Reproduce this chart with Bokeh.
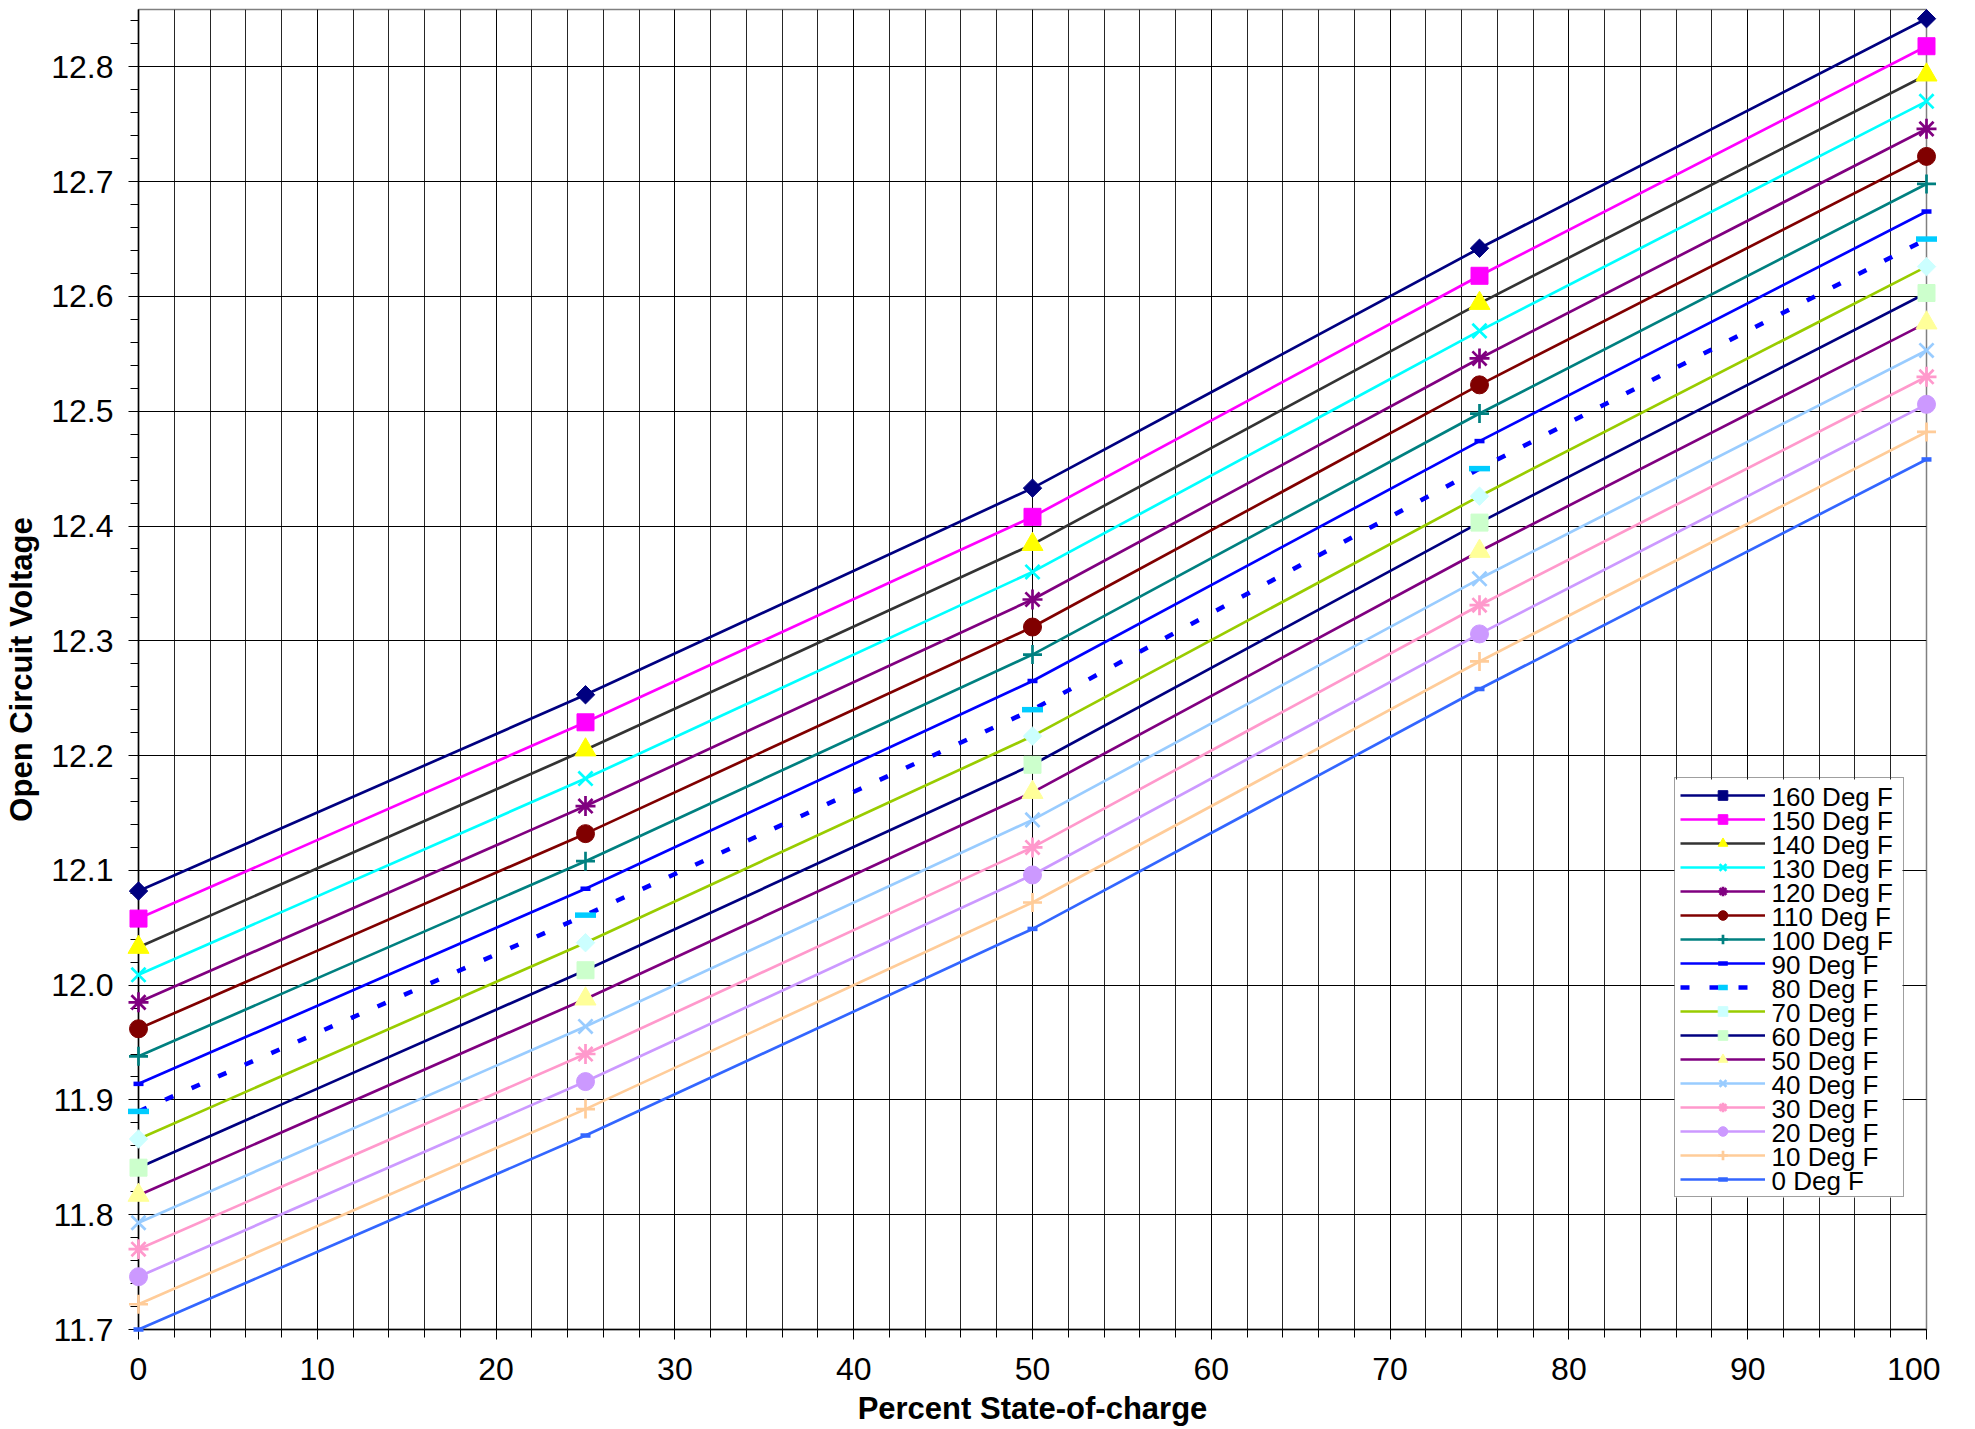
import math
from bokeh.plotting import figure
from bokeh.models import (FixedTicker, PrintfTickFormatter, Legend, LegendItem, Range1d,
                          ColumnDataSource)
from bokeh.core.properties import value
from bokeh.embed import file_html
from bokeh.resources import INLINE

soc = [0, 25, 50, 75, 100]

labels = ["160 Deg F", "150 Deg F", "140 Deg F", "130 Deg F", "120 Deg F", "110 Deg F",
          "100 Deg F", "90 Deg F", "80 Deg F", "70 Deg F", "60 Deg F", "50 Deg F",
          "40 Deg F", "30 Deg F", "20 Deg F", "10 Deg F", "0 Deg F"]

v160 = [12.082, 12.253, 12.433, 12.642, 12.842]
v150 = [12.058, 12.229, 12.408, 12.618, 12.818]
v140 = [12.033, 12.205, 12.384, 12.594, 12.793]
v130 = [12.009, 12.180, 12.360, 12.570, 12.770]
v120 = [11.985, 12.156, 12.336, 12.546, 12.746]
v110 = [11.962, 12.132, 12.312, 12.523, 12.722]
v100 = [11.938, 12.108, 12.288, 12.498, 12.698]
v90 = [11.914, 12.084, 12.265, 12.474, 12.674]
v80 = [11.890, 12.061, 12.240, 12.450, 12.650]
v70 = [11.866, 12.037, 12.217, 12.426, 12.626]
v60 = [11.841, 12.013, 12.192, 12.403, 12.603]
v50 = [11.817, 11.988, 12.168, 12.378, 12.577]
v40 = [11.793, 11.964, 12.144, 12.354, 12.553]
v30 = [11.770, 11.940, 12.120, 12.331, 12.530]
v20 = [11.746, 11.916, 12.096, 12.306, 12.506]
v10 = [11.722, 11.892, 12.072, 12.282, 12.482]
v0 = [11.700, 11.869, 12.049, 12.258, 12.458]

series = [v160, v150, v140, v130, v120, v110, v100, v90, v80, v70, v60, v50, v40, v30, v20, v10, v0]

x_ticks = [0, 10, 20, 30, 40, 50, 60, 70, 80, 90, 100]
y_ticks = [11.7, 11.8, 11.9, 12.0, 12.1, 12.2, 12.3, 12.4, 12.5, 12.6, 12.7, 12.8]

# style: (line color, marker, marker fill, marker line, size, angle, marker line width)
styles = [
    ("#000080", "square", "#000080", "#000080", 13, math.pi / 4, 1),
    ("#FF00FF", "square", "#FF00FF", "#FF00FF", 17, 0, 1),
    ("#333333", "triangle", "#FFFF00", "#FFFF00", 21, 0, 1),
    ("#00FFFF", "x", "#00FFFF", "#00FFFF", 20, 0, 2.7),
    ("#800080", "asterisk", "#800080", "#800080", 20, 0, 2.7),
    ("#800000", "circle", "#800000", "#800000", 18, 0, 1),
    ("#008080", "cross", "#008080", "#008080", 19, 0, 2.7),
    ("#0000FF", "dash", "#0000FF", "#0000FF", 10, 0, 4.5),
    ("#0000FF", "dash", "#00CCFF", "#00CCFF", 21, 0, 5.5),
    ("#99CC00", "square", "#CCFFFF", "#CCFFFF", 13, math.pi / 4, 1),
    ("#000080", "square", "#CCFFCC", "#CCFFCC", 17, 0, 1),
    ("#800080", "triangle", "#FFFF99", "#FFFF99", 21, 0, 1),
    ("#99CCFF", "x", "#99CCFF", "#99CCFF", 20, 0, 2.7),
    ("#FF99CC", "asterisk", "#FF99CC", "#FF99CC", 20, 0, 2.7),
    ("#CC99FF", "circle", "#CC99FF", "#CC99FF", 18, 0, 1),
    ("#FFCC99", "cross", "#FFCC99", "#FFCC99", 19, 0, 2.7),
    ("#3366FF", "dash", "#3366FF", "#3366FF", 10, 0, 4.5),
]

W, H = 1940, 1429
BL, BR, BT, BB = 138, 14, 9, 100
X0, X1, Y0, Y1 = 0, 100, 11.7, 12.85

p = figure(width=W, height=H, output_backend="svg", toolbar_location=None,
           x_range=Range1d(X0, X1), y_range=Range1d(Y0, Y1),
           min_border_left=BL, min_border_right=BR, min_border_top=BT, min_border_bottom=BB)
p.background_fill_color = "white"
p.border_fill_color = "white"
p.outline_line_color = "#808080"
p.outline_line_width = 1.5

p.xaxis.ticker = FixedTicker(ticks=x_ticks, minor_ticks=list(range(0, 101, 2)))
p.yaxis.ticker = FixedTicker(ticks=y_ticks,
                             minor_ticks=[round(11.7 + 0.02 * i, 2) for i in range(58)])
p.yaxis.formatter = PrintfTickFormatter(format="%.1f")

for ax in (p.xaxis[0], p.yaxis[0]):
    ax.axis_line_color = "black"
    ax.axis_line_width = 1.5
    ax.major_tick_line_color = "black"
    ax.minor_tick_line_color = "black"
    ax.major_tick_out = 10
    ax.major_tick_in = 0
    ax.minor_tick_out = 8
    ax.minor_tick_in = 0
    ax.major_label_text_font = "Liberation Sans"
    ax.major_label_text_font_size = "32px"
    ax.major_label_text_color = "black"
    ax.axis_label_text_font = "Liberation Sans"
    ax.axis_label_text_font_size = "31px"
    ax.axis_label_text_font_style = "bold"
    ax.axis_label_text_color = "black"

p.xaxis.axis_label = "Percent State-of-charge"
p.yaxis.axis_label = "Open Circuit Voltage"
p.xaxis.major_label_standoff = 18
p.xaxis.axis_label_standoff = 8
p.yaxis.major_label_standoff = 15
p.yaxis.axis_label_standoff = 9

p.xgrid.grid_line_color = "black"
p.xgrid.grid_line_alpha = 0.85
p.xgrid.grid_line_width = 1
p.xgrid.minor_grid_line_color = "black"
p.xgrid.minor_grid_line_alpha = 0.85
p.xgrid.minor_grid_line_width = 1
p.ygrid.grid_line_color = "black"
p.ygrid.grid_line_width = 1

items = []
for lab, vals, st in zip(labels, series, styles):
    lc, mk, mf, ml, sz, ang, mlw = st
    if lab == "80 Deg F":
        ln = p.line(soc, vals, line_color=lc, line_width=4.5, line_dash="9 20")
    else:
        ln = p.line(soc, vals, line_color=lc, line_width=2.7)
    sc = p.scatter(soc, vals, marker=mk, size=sz, angle=ang, fill_color=mf,
                   line_color=ml, line_width=mlw, level="overlay")
    items.append(LegendItem(label=" ", renderers=[ln, sc]))

# legend layout (screen px, relative to the plot frame's bottom-left)
LEG_X, LEG_Y, PAD, ROW, GLYPH_W, STANDOFF, LABEL_W = 1536, 132, 5, 24, 85, 7, 126
FW, FH = W - BL - BR, H - BT - BB
leg_top = LEG_Y + 2 * PAD + ROW * len(labels)
leg_right = LEG_X + 2 * PAD + GLYPH_W + STANDOFF + LABEL_W


def sx(px):
    return X0 + px * (X1 - X0) / FW


def sy(px):
    return Y0 + px * (Y1 - Y0) / FH


# white legend background (drawn over the grid and the series lines)
p.quad(left=[sx(LEG_X)], right=[sx(leg_right)], bottom=[sy(LEG_Y)], top=[sy(leg_top)],
       fill_color="white", line_color=None)

legend = Legend(items=items, location=(LEG_X, LEG_Y), orientation="vertical",
                glyph_width=GLYPH_W, glyph_height=ROW, label_height=ROW, label_width=LABEL_W,
                spacing=0, padding=PAD, margin=0, label_standoff=STANDOFF,
                label_text_font="Liberation Sans", label_text_font_size="1px",
                border_line_color="#404040", border_line_width=1.5,
                background_fill_alpha=0.0)
p.add_layout(legend)

# legend label texts, placed in the legend's rows
lx = [sx(LEG_X + PAD + GLYPH_W + STANDOFF) for _ in labels]
ly = [sy(leg_top - PAD - ROW * i - ROW / 2) for i in range(len(labels))]
lsrc = ColumnDataSource(dict(x=lx, y=ly, text=labels))
p.text(x="x", y="y", text="text", source=lsrc, text_baseline="middle", text_align="left",
       text_font=value("Liberation Sans"), text_font_size=value("26px"),
       text_color="black", level="overlay")

open("out.html", "w").write(file_html(p, INLINE))
